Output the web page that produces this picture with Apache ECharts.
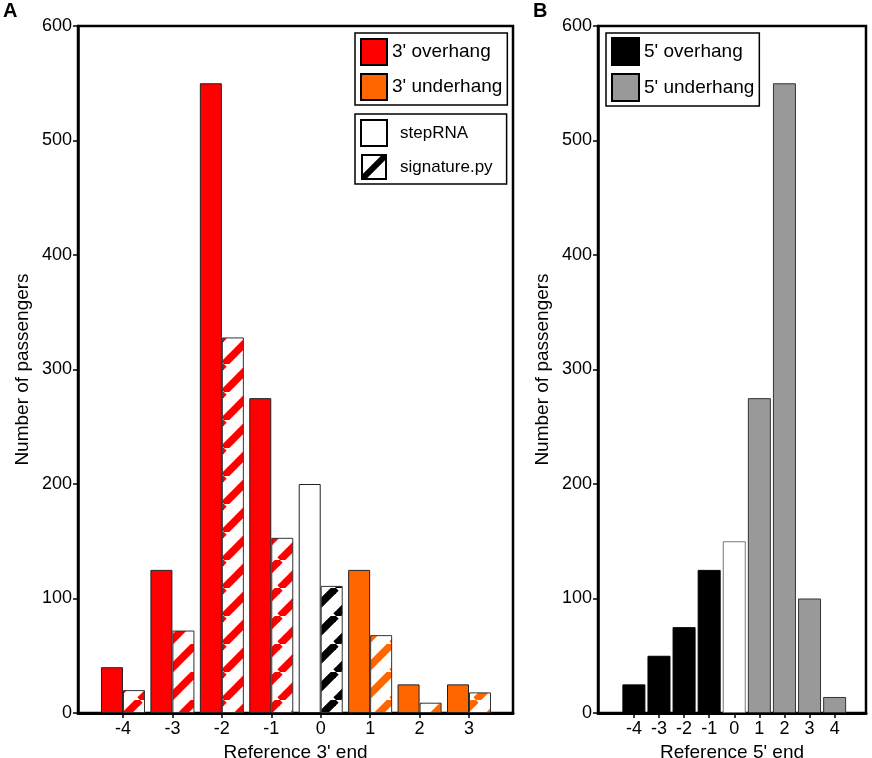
<!DOCTYPE html>
<html>
<head>
<meta charset="utf-8">
<script src="https://cdn.jsdelivr.net/npm/echarts@6/dist/echarts.min.js"></script>
<style>
  html, body { margin: 0; padding: 0; background: #fff; }
  #chart { width: 872px; height: 758px; }
</style>
</head>
<body>
<div id="chart"></div>
<script>
// Panel A: reference 3' end
const endsA = [-4, -3, -2, -1, 0, 1, 2, 3];
const stepRNA_A = [40, 125, 550, 275, 200, 125, 25, 25];
const signature_A = [20, 72, 328, 153, 111, 68, 9, 18];
const kindA = ["over", "over", "over", "over", "match", "under", "under", "under"];

// Panel B: reference 5' end
const endsB = [-4, -3, -2, -1, 0, 1, 2, 3, 4];
const countsB = [25, 50, 75, 125, 150, 275, 550, 100, 14];
const kindB = ["over", "over", "over", "over", "match", "under", "under", "under", "under"];

const FONT = "Liberation Sans, Arial, sans-serif";
const colA = { over: "#ff0000", under: "#ff6600", match: "#ffffff" };
const hatchColA = { over: "#ff0000", under: "#ff6600", match: "#000000" };
const colB = { over: "#000000", under: "#999999", match: "#ffffff" };

// rayado diagonal para las barras de signature.py
function hatchCanvas(color) {
  const s = 28;
  const c = document.createElement("canvas");
  c.width = s; c.height = s;
  const ctx = c.getContext("2d");
  ctx.fillStyle = "#fff";
  ctx.fillRect(0, 0, s, s);
  ctx.strokeStyle = color;
  ctx.lineWidth = 7.5;
  [-s, 0, s].forEach(function (o) {
    ctx.beginPath();
    ctx.moveTo(o, s);
    ctx.lineTo(o + s, 0);
    ctx.stroke();
  });
  return c;
}
const patterns = {};
function hatch(color) {
  if (!patterns[color]) patterns[color] = { image: hatchCanvas(color), repeat: "repeat" };
  return patterns[color];
}

// icono de leyenda para signature.py
function sigIcon() {
  const s = 52;
  const c = document.createElement("canvas");
  c.width = s; c.height = s;
  const ctx = c.getContext("2d");
  ctx.fillStyle = "#fff";
  ctx.fillRect(0, 0, s, s);
  ctx.save();
  ctx.beginPath();
  ctx.rect(0, 0, s, s);
  ctx.clip();
  ctx.strokeStyle = "#000";
  ctx.lineWidth = 12;
  ctx.beginPath();
  ctx.moveTo(0, s);
  ctx.lineTo(s, 0);
  ctx.stroke();
  ctx.restore();
  ctx.lineWidth = 4;
  ctx.strokeRect(2, 2, s - 4, s - 4);
  return "image://" + c.toDataURL();
}

const chart = echarts.init(document.getElementById("chart"));

function xAxisFor(grid, min, max, ticks, name) {
  return {
    gridIndex: grid, type: "value", min: min, max: max,
    name: name, nameLocation: "middle", nameGap: 21,
    nameTextStyle: { fontSize: 19, color: "#000", fontFamily: FONT },
    axisLine: { onZero: false, lineStyle: { color: "#000", width: 3 } },
    axisTick: { show: true, length: 5, customValues: ticks, lineStyle: { color: "#000", width: 1.5 } },
    axisLabel: { customValues: ticks, fontSize: 18, color: "#000", margin: 7, fontFamily: FONT },
    splitLine: { show: false },
  };
}
function yAxisFor(grid) {
  return {
    gridIndex: grid, type: "value", min: 0, max: 600, interval: 100,
    name: "Number of passengers", nameLocation: "middle", nameGap: 46,
    nameTextStyle: { fontSize: 19, color: "#000", fontFamily: FONT },
    axisLine: { show: true, onZero: false, lineStyle: { color: "#000", width: 2.5 } },
    axisTick: { show: true, length: 5, lineStyle: { color: "#000", width: 1.5 } },
    axisLabel: { fontSize: 18, color: "#000", margin: 6, fontFamily: FONT },
    splitLine: { show: false },
  };
}

function legendItem(name, color) {
  return { name: name, icon: "rect", itemStyle: { color: color, borderColor: "#000", borderWidth: 2, opacity: 1 } };
}
function legendBox(left, top, pad, size, fontSize, data, textPad) {
  return {
    orient: "vertical", left: left, top: top, padding: pad,
    itemWidth: size, itemHeight: size, itemGap: 7,
    borderColor: "#000", borderWidth: 1.5, backgroundColor: "#fff",
    selectedMode: false,
    itemStyle: { opacity: 1 },
    textStyle: { fontSize: fontSize, color: "#000", fontFamily: FONT, padding: [0, 0, 0, textPad] },
    data: data,
  };
}

const option = {
  backgroundColor: "#fff",
  animation: false,
  title: [
    { text: "A", left: 3, top: 1, padding: 0, textStyle: { fontSize: 20, fontWeight: "bold", color: "#000", fontFamily: FONT } },
    { text: "B", left: 533, top: 1, padding: 0, textStyle: { fontSize: 20, fontWeight: "bold", color: "#000", fontFamily: FONT } },
  ],
  grid: [
    { left: 78, top: 26, width: 435, height: 687, outerBoundsMode: "none", containLabel: false,
      show: true, borderColor: "#000", borderWidth: 2.5 },
    { left: 598, top: 26, width: 268, height: 687, outerBoundsMode: "none", containLabel: false,
      show: true, borderColor: "#000", borderWidth: 2.5 },
  ],
  xAxis: [
    xAxisFor(0, -4.91, 3.89, endsA, "Reference 3' end"),
    xAxisFor(1, -5.43, 5.25, endsB, "Reference 5' end"),
  ],
  yAxis: [yAxisFor(0), yAxisFor(1)],
  legend: [
    legendBox(355, 33, [5, 5, 4, 5], 26, 19, [
      legendItem("3' overhang", colA.over),
      legendItem("3' underhang", colA.under),
    ], 0),
    legendBox(355, 114, [5, 14, 4, 5], 26, 17, [
      legendItem("stepRNA", "#fff"),
      { name: "signature.py", icon: sigIcon(), itemStyle: { opacity: 1 } },
    ], 8),
    legendBox(606, 33, [4, 5, 4, 5], 27, 19, [
      legendItem("5' overhang", colB.over),
      legendItem("5' underhang", colB.under),
    ], 0),
  ],
  series: [
    {
      name: "stepRNA bars", type: "bar", xAxisIndex: 0, yAxisIndex: 0,
      barWidth: 22, barGap: "0%",
      data: endsA.map(function (x, i) {
        return { value: [x, stepRNA_A[i]], itemStyle: { color: colA[kindA[i]], borderColor: "#222", borderWidth: 1 } };
      }),
    },
    {
      name: "signature bars", type: "bar", xAxisIndex: 0, yAxisIndex: 0,
      barWidth: 22, barGap: "0%",
      data: endsA.map(function (x, i) {
        return { value: [x, signature_A[i]], itemStyle: { color: hatch(hatchColA[kindA[i]]), borderColor: "#333", borderWidth: 1 } };
      }),
    },
    {
      name: "5' end bars", type: "bar", xAxisIndex: 1, yAxisIndex: 1,
      barWidth: 23,
      data: endsB.map(function (x, i) {
        const k = kindB[i];
        return {
          value: [x, countsB[i]],
          itemStyle: { color: colB[k], borderColor: k === "over" ? "#000" : (k === "match" ? "#777" : "#333"), borderWidth: 1 },
        };
      }),
    },
    // series vacías solo para las leyendas
    { name: "3' overhang", type: "scatter", xAxisIndex: 0, yAxisIndex: 0, itemStyle: { opacity: 1 }, data: [] },
    { name: "3' underhang", type: "scatter", xAxisIndex: 0, yAxisIndex: 0, itemStyle: { opacity: 1 }, data: [] },
    { name: "stepRNA", type: "scatter", xAxisIndex: 0, yAxisIndex: 0, itemStyle: { opacity: 1 }, data: [] },
    { name: "signature.py", type: "scatter", xAxisIndex: 0, yAxisIndex: 0, itemStyle: { opacity: 1 }, data: [] },
    { name: "5' overhang", type: "scatter", xAxisIndex: 1, yAxisIndex: 1, itemStyle: { opacity: 1 }, data: [] },
    { name: "5' underhang", type: "scatter", xAxisIndex: 1, yAxisIndex: 1, itemStyle: { opacity: 1 }, data: [] },
  ],
};

chart.setOption(option);
</script>
</body>
</html>
